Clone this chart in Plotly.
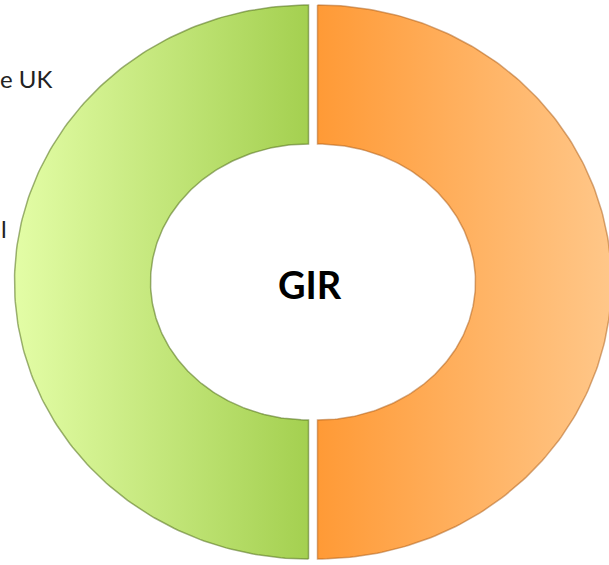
import numpy as np
import plotly.graph_objects as go

# ---- data ----
categories = ["Orange", "Green"]
values = [50, 50]
center_label = "GIR"
side_labels = ["e UK", "l"]

# ---- styles / geometry ----
W, H = 609, 565
CX, CY = 313, 282
RX_OUT, RY_OUT = 294, 277
RX_IN, RY_IN = 158, 138
PULL = 4.5
gradients = [
    [[0, "#ff9a36"], [1, "#ffc789"]],
    [[0, "#e3fda6"], [1, "#a4d050"]],
]
edge_colors = ["rgba(170,90,20,0.5)", "rgba(80,110,25,0.55)"]

fig = go.Figure()

total = float(sum(values))
start = 0.0
for i, (cat, v) in enumerate(zip(categories, values)):
    a0 = start
    a1 = start + v / total * 2 * np.pi
    start = a1
    mid = (a0 + a1) / 2
    dx = PULL * np.sin(mid)
    dy = -PULL * np.cos(mid)
    t_out = np.linspace(a0, a1, 200)
    t_in = t_out[::-1]
    xs = np.concatenate([CX + dx + RX_OUT * np.sin(t_out), CX + dx + RX_IN * np.sin(t_in)])
    ys = np.concatenate([CY + dy - RY_OUT * np.cos(t_out), CY + dy - RY_IN * np.cos(t_in)])
    xs = np.append(xs, xs[0])
    ys = np.append(ys, ys[0])
    fig.add_trace(go.Scatter(
        x=xs, y=ys, mode="lines", fill="toself", name=cat,
        line=dict(color=edge_colors[i], width=1.5),
        fillgradient=dict(type="horizontal", colorscale=gradients[i]),
        hoverinfo="name", showlegend=False,
    ))

fig.add_annotation(x=CX - 3, y=CY + 2, text="<b>" + center_label + "</b>", showarrow=False,
                   font=dict(family="Lato", size=38, color="black"),
                   xanchor="center", yanchor="middle")
fig.add_annotation(x=0, y=78, text=side_labels[0], showarrow=False,
                   font=dict(family="Lato", size=24, color="#222222"),
                   xanchor="left", yanchor="middle", xshift=-2)
fig.add_annotation(x=0, y=228, text=side_labels[1], showarrow=False,
                   font=dict(family="Lato", size=24, color="#222222"),
                   xanchor="left", yanchor="middle", xshift=-1)

fig.update_layout(
    width=W, height=H,
    margin=dict(l=0, r=0, t=0, b=0),
    paper_bgcolor="white", plot_bgcolor="white",
    xaxis=dict(range=[0, W], visible=False, fixedrange=True),
    yaxis=dict(range=[H, 0], visible=False, fixedrange=True),
    showlegend=False,
)

fig.write_html("out.html", config={"displayModeBar": False},
               post_script="document.body.style.margin='0';document.body.style.overflow='hidden';")
